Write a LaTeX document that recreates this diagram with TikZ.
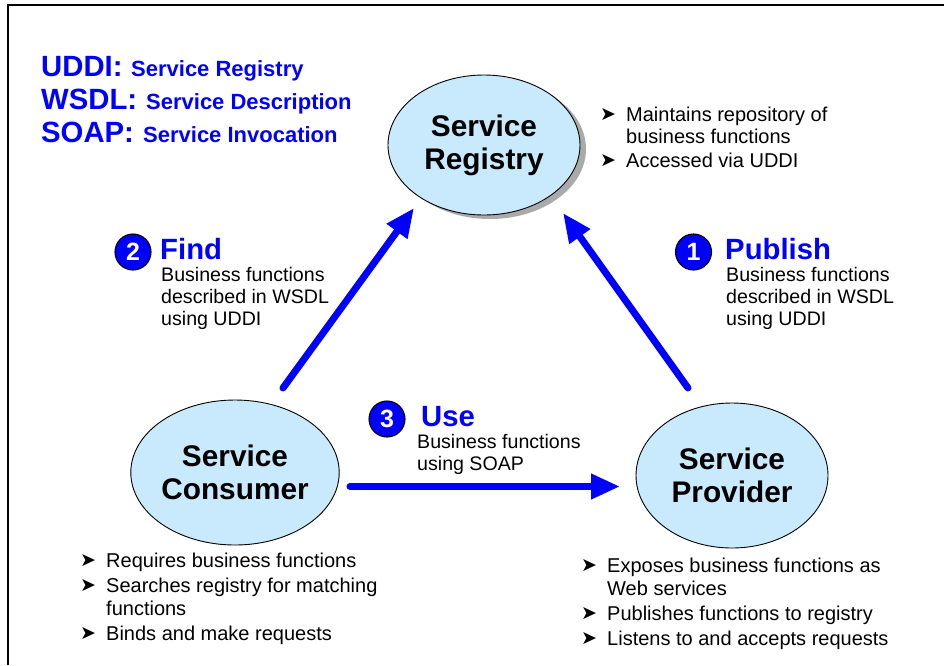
\documentclass[tikz,border=0pt]{standalone}
\usepackage{fontspec}
\setmainfont{Liberation Sans}
\newfontfamily\dejavu{DejaVu Sans}
\usetikzlibrary{arrows.meta,shapes.geometric}
\definecolor{ibmblue}{RGB}{0,0,255}
\definecolor{ellfill}{RGB}{200,234,252}
\definecolor{shadowgray}{RGB}{170,170,170}
\newcommand{\bulitem}{\makebox[26pt][l]{\raisebox{0.5pt}{\dejavu\fontsize{19}{19}\selectfont ➤}}}
\begin{document}
\begin{tikzpicture}[x=1pt,y=-1pt,
  svc/.style={ellipse, draw=black, line width=0.9pt, fill=ellfill, inner sep=0pt,
    align=center, font=\bfseries\fontsize{29.8}{33}\selectfont},
  flow/.style={draw=ibmblue, line width=7pt, line cap=round,
    -{Triangle[length=29pt,width=24pt]}},
  numc/.style={circle, fill=ibmblue, draw=black, line width=1.1pt, minimum size=36pt,
    inner sep=0pt, text=white, font=\bfseries\fontsize{25}{25}\selectfont},
  ttl/.style={anchor=base west, inner sep=0pt, text=ibmblue,
    font=\bfseries\fontsize{29.3}{30}\selectfont},
  sub/.style={anchor=base west, inner sep=0pt, text=ibmblue,
    font=\bfseries\fontsize{22}{24}\selectfont},
  txt/.style={anchor=base west, inner sep=0pt, font=\fontsize{19.6}{22}\selectfont},
  lst/.style={anchor=base west, inner sep=0pt, font=\fontsize{20}{22}\selectfont}]
\useasboundingbox (0,0) rectangle (944,665);
% frame
\draw[line width=1.5pt] (8,665) -- (8,5) -- (944,5);

% legend
\node[ttl] (lg1) at (41,76) {UDDI:};
\node[sub] (lg1b) at (131,76) {Service Registry};
\node[ttl] (lg2) at (41,109) {WSDL:};
\node[sub] (lg2b) at (146,109) {Service Description};
\node[ttl] (lg3) at (41,142) {SOAP:};
\node[sub] (lg3b) at (143,142) {Service Invocation};

% service ellipses
\node[ellipse, fill=shadowgray, minimum width=192pt, minimum height=140pt, inner sep=0pt]
  (regshadow) at (490,149) {};
\node[svc, minimum width=192pt, minimum height=140pt] (reg) at (484,145) {Service\\Registry};
\node[svc, minimum width=190pt, minimum height=145pt] (cons) at (235,472.5) {Service\\Consumer};
\node[svc, minimum width=192pt, minimum height=145pt] (prov) at (732,475.5) {Service\\Provider};

% arrows
\coordinate (findS) at (283,388);
\coordinate (findE) at (414,208);
\coordinate (pubS) at (688,388);
\coordinate (pubE) at (563,213);
\coordinate (useS) at (350,486.5);
\coordinate (useE) at (620,486.5);
\draw[flow] (findS) -- (findE);
\draw[flow] (pubS) -- (pubE);
\draw[flow] (useS) -- (useE);

% Find
\node[numc] (n2) at (133,252) {2};
\node[ttl] (findT) at (160,259) {Find};
\node[txt] (find1) at (161,281.5) {Business functions};
\node[txt] (find2) at (161,303.5) {described in WSDL};
\node[txt] (find3) at (161,325.5) {using UDDI};

% Publish
\node[numc] (n1) at (693.5,252) {1};
\node[ttl] (pubT) at (725,259) {Publish};
\node[txt] (pub1) at (726,281.5) {Business functions};
\node[txt] (pub2) at (726,303.5) {described in WSDL};
\node[txt] (pub3) at (726,325.5) {using UDDI};

% Use
\node[numc] (n3) at (387,419) {3};
\node[ttl] (useT) at (421,426) {Use};
\node[txt] (use1) at (417,448.5) {Business functions};
\node[txt] (use2) at (417,470.5) {using SOAP};

% registry bullets
\node[lst] (r1) at (600,121) {\bulitem Maintains repository of};
\node[lst] (r2) at (626,143) {business functions};
\node[lst] (r3) at (600,167) {\bulitem Accessed via UDDI};

% consumer bullets
\node[lst] (c1) at (80,567) {\bulitem Requires business functions};
\node[lst] (c2) at (80,592) {\bulitem Searches registry for matching};
\node[lst] (c3) at (106,615) {functions};
\node[lst] (c4) at (80,640) {\bulitem Binds and make requests};

% provider bullets
\node[lst] (p1) at (581,572) {\bulitem Exposes business functions as};
\node[lst] (p2) at (607,595) {Web services};
\node[lst] (p3) at (581,620) {\bulitem Publishes functions to registry};
\node[lst] (p4) at (581,645) {\bulitem Listens to and accepts requests};
\end{tikzpicture}
\end{document}
